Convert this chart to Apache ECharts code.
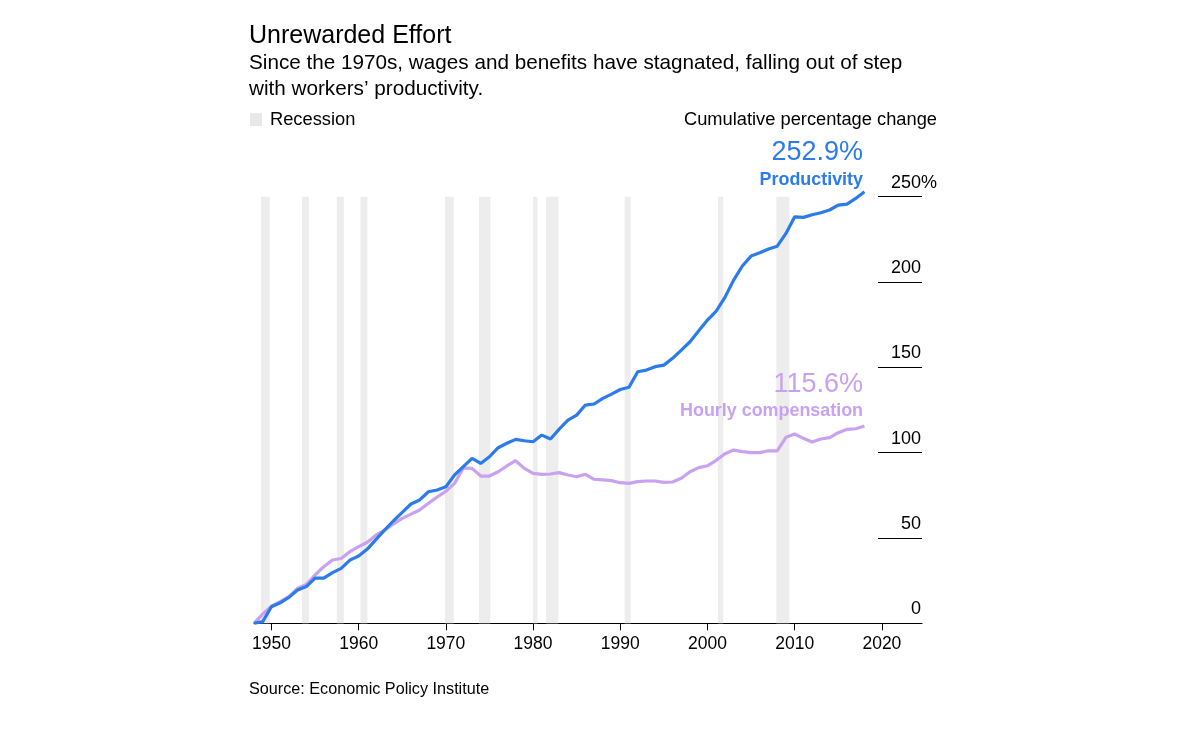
<!DOCTYPE html>
<html>
<head>
    <meta charset="utf-8">
    <title>Unrewarded Effort</title>
    <script src="https://cdn.jsdelivr.net/npm/echarts@6/dist/echarts.min.js"></script>
    <style>
        body { margin: 0; background: #fff; }
        #chart1 { width: 1200px; height: 751px; }
    </style>
</head>
<body>
<div id="chart1"></div>
<script>
    // 数据
    var years = [1948, 1949, 1950, 1951, 1952, 1953, 1954, 1955, 1956, 1957,
        1958, 1959, 1960, 1961, 1962, 1963, 1964, 1965, 1966, 1967,
        1968, 1969, 1970, 1971, 1972, 1973, 1974, 1975, 1976, 1977,
        1978, 1979, 1980, 1981, 1982, 1983, 1984, 1985, 1986, 1987,
        1988, 1989, 1990, 1991, 1992, 1993, 1994, 1995, 1996, 1997,
        1998, 1999, 2000, 2001, 2002, 2003, 2004, 2005, 2006, 2007,
        2008, 2009, 2010, 2011, 2012, 2013, 2014, 2015, 2016, 2017, 2018];
    var productivity = [0, 1, 9.7, 12, 15.2, 19.5, 21.5, 26.5, 26.5, 29.7,
        32.2, 37, 39.4, 43.5, 49.2, 54.7, 60.1, 65, 69.9, 72.3,
        77.1, 78.1, 80, 86.9, 91.8, 96.7, 93.7, 97.6, 102.9, 105.5,
        107.8, 107, 106.4, 110.3, 108, 113.8, 119, 122, 127.9, 128.5,
        131.8, 134.3, 137, 138.3, 147.4, 148.4, 150.4, 151.3, 155.3, 160.1,
        165, 171.5, 177.7, 183, 191, 201.1, 209.4, 215.2, 217.1, 219.3,
        221, 228.5, 238.2, 237.9, 239.4, 240.6, 242.2, 245.1, 245.7, 249, 252.9];
    var compensation = [0, 5.4, 10, 12.7, 15.6, 20.5, 22.8, 28.3, 33.2, 37.1,
        38, 42, 44.9, 47.5, 51.7, 54.7, 58.2, 61.5, 64, 66.4,
        70.3, 74, 77.3, 82, 91, 90.8, 86.3, 86.3, 88.8, 92.2,
        95.3, 90.8, 87.9, 87.3, 87.5, 88.3, 86.9, 85.9, 87.3, 84.4,
        84, 83.6, 82.4, 82, 83, 83.4, 83.4, 82.6, 82.8, 85,
        88.8, 91.2, 92.3, 95.5, 99.4, 101.5, 100.6, 100, 100, 101.1,
        101.1, 109, 110.9, 108.4, 106.2, 108, 108.8, 111.7, 113.7, 114, 115.6];
    // 衰退期 (起止年份)
    var recessionStart = [1948.8, 1953.5, 1957.5, 1960.2, 1969.9, 1973.8, 1980.0, 1981.5, 1990.5, 2001.2, 2007.9];
    var recessionEnd = [1949.8, 1954.3, 1958.3, 1961.0, 1970.9, 1975.1, 1980.5, 1982.9, 1991.2, 2001.8, 2009.4];
    var xTicks = [1950, 1960, 1970, 1980, 1990, 2000, 2010, 2020];

    var font = '"Liberation Sans", Arial, sans-serif';
    var blue = '#2b7bea';
    var purple = '#c8a2f0';

    function pairs(ys) {
        var out = [];
        for (var i = 0; i < years.length; i++) {
            out.push([years[i], ys[i]]);
        }
        return out;
    }

    var bands = [];
    for (var i = 0; i < recessionStart.length; i++) {
        bands.push([{xAxis: recessionStart[i], yAxis: 0}, {xAxis: recessionEnd[i], yAxis: productivity[productivity.length - 1]}]);
    }

    var lastP = productivity[productivity.length - 1].toFixed(1) + '%';
    var lastC = compensation[compensation.length - 1].toFixed(1) + '%';

    var myChart1 = echarts.init(document.getElementById('chart1'));
    myChart1.setOption({
        backgroundColor: '#fff',
        animation: false,
        textStyle: {fontFamily: font},
        grid: {left: 254, right: 278, top: 196.7, bottom: 127.7},
        xAxis: {
            type: 'value',
            min: 1948,
            max: 2024.6,
            splitLine: {show: false},
            axisLine: {lineStyle: {color: '#000', width: 1}},
            axisTick: {show: true, length: 7, customValues: xTicks, lineStyle: {color: '#000'}},
            axisLabel: {
                customValues: xTicks,
                color: '#000',
                fontSize: 17.5,
                fontFamily: font,
                margin: 12,
                formatter: function (v) {
                    return String(v);
                }
            }
        },
        yAxis: {
            type: 'value',
            position: 'right',
            min: 0,
            max: 250,
            interval: 50,
            splitLine: {show: false},
            axisLine: {show: false},
            axisTick: {show: true, inside: true, length: 44, lineStyle: {color: '#000', width: 1}},
            axisLabel: {
                inside: true,
                align: 'left',
                verticalAlign: 'bottom',
                margin: 44,
                padding: [0, 0, 5, 0],
                color: '#000',
                fontSize: 18,
                fontFamily: font,
                formatter: function (v) {
                    if (v === 250) return '{n|' + v + '}{p|%}';
                    return '{n|' + v + '}';
                },
                rich: {
                    n: {width: 43, align: 'right', fontSize: 18, fontFamily: font, color: '#000'},
                    p: {align: 'right', fontSize: 18, fontFamily: font, color: '#000'}
                }
            }
        },
        series: [
            {
                name: 'Hourly compensation',
                type: 'line',
                data: pairs(compensation),
                showSymbol: false,
                clip: false,
                z: 2,
                lineStyle: {color: purple, width: 3.2},
                itemStyle: {color: purple},
                markArea: {
                    silent: true,
                    itemStyle: {color: '#ededed'},
                    data: bands
                }
            },
            {
                name: 'Productivity',
                type: 'line',
                data: pairs(productivity),
                showSymbol: false,
                clip: false,
                z: 3,
                lineStyle: {color: blue, width: 3.2},
                itemStyle: {color: blue}
            }
        ],
        graphic: [
            {type: 'text', z: 100, x: 249, y: 36, style: {text: 'Unrewarded Effort', font: '25px ' + font, fill: '#000', verticalAlign: 'middle'}},
            {type: 'text', z: 100, x: 249, y: 63, style: {text: 'Since the 1970s, wages and benefits have stagnated, falling out of step', font: '20.7px ' + font, fill: '#000', verticalAlign: 'middle'}},
            {type: 'text', z: 100, x: 249, y: 89.5, style: {text: 'with workers\u2019 productivity.', font: '20.7px ' + font, fill: '#000', verticalAlign: 'middle'}},
            {type: 'rect', z: 100, shape: {x: 250, y: 113, width: 12, height: 13}, style: {fill: '#e8e8e8'}},
            {type: 'text', z: 100, x: 270, y: 119.5, style: {text: 'Recession', font: '18.3px ' + font, fill: '#000', verticalAlign: 'middle'}},
            {type: 'text', z: 100, x: 937, y: 119.5, style: {text: 'Cumulative percentage change', font: '18.3px ' + font, fill: '#000', align: 'right', verticalAlign: 'middle'}},
            {type: 'text', z: 100, x: 863, y: 153, style: {text: lastP, font: '27px ' + font, fill: blue, align: 'right', verticalAlign: 'middle'}},
            {type: 'text', z: 100, x: 863, y: 180.5, style: {text: 'Productivity', font: 'bold 17.9px ' + font, fill: blue, align: 'right', verticalAlign: 'middle'}},
            {type: 'text', z: 100, x: 863, y: 385, style: {text: lastC, font: '27px ' + font, fill: purple, align: 'right', verticalAlign: 'middle'}},
            {type: 'text', z: 100, x: 863, y: 411.5, style: {text: 'Hourly compensation', font: 'bold 17.9px ' + font, fill: purple, align: 'right', verticalAlign: 'middle'}},
            {type: 'text', z: 100, x: 249, y: 689.5, style: {text: 'Source: Economic Policy Institute', font: '16.2px ' + font, fill: '#000', verticalAlign: 'middle'}}
        ]
    });
</script>
</body>
</html>
